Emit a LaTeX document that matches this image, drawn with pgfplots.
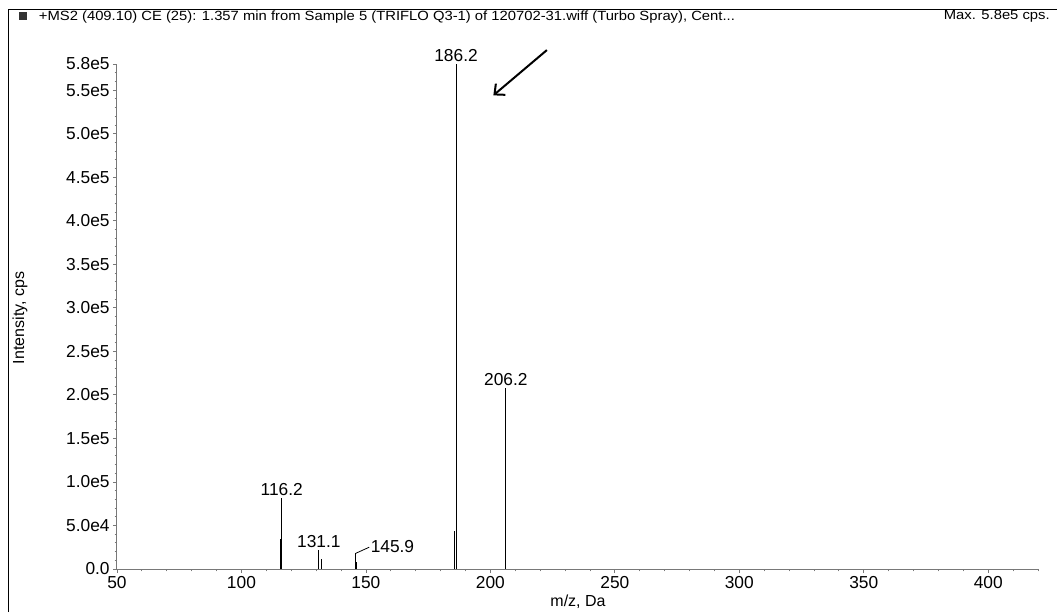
\documentclass[border=0pt]{standalone}
\usepackage{fontspec}
\setmainfont{Liberation Sans}
\newfontfamily\hdrfont[FakeStretch=1.11]{Liberation Sans}
\usepackage{pgfplots}
\pgfplotsset{compat=1.18}
\usetikzlibrary{arrows.meta}
\definecolor{axgray}{RGB}{120,120,120}
\begin{document}
\begin{tikzpicture}
\path[use as bounding box] (0,0) rectangle (792.75pt,-459pt);
\draw[black, line width=0.75pt] (6pt,-459pt) -- (6pt,-7pt) -- (792.75pt,-7pt);
\fill[black!80] (14pt,-9pt) rectangle (20pt,-15pt);
\node[anchor=west, font=\hdrfont\fontsize{10pt}{11pt}\selectfont, inner sep=0pt] at (29pt,-12.5pt) {+MS2 (409.10) CE (25): 1.357 min from Sample 5 (TRIFLO Q3-1) of 120702-31.wiff (Turbo Spray), Cent...};
\node[anchor=east, font=\hdrfont\fontsize{10pt}{11pt}\selectfont, inner sep=0pt] at (787.5pt,-12.5pt) {Max. 5.8e5 cps.};
\node[rotate=90, font=\fontsize{12pt}{14pt}\selectfont] at (15pt,-238.5pt) {Intensity, cps};
\node[font=\fontsize{12pt}{14pt}\selectfont, anchor=south] at (433.5pt,-460pt) {m/z, Da};
\begin{axis}[
  at={(87.75pt,-426.75pt)}, anchor=south west,
  scale only axis, width=690.75pt, height=378.75pt,
  xmin=50, xmax=420, ymin=0, ymax=580000,
  axis x line*=bottom, axis y line*=left,
  axis line style={axgray, line width=0.75pt},
  tick style={axgray, line width=0.6pt},
  tick align=outside,
  major tick length=3pt, minor tick length=1.8pt,
  xtick={50,100,...,400},
  xticklabels={50,100,150,200,250,300,350,400},
  minor xtick={60,70,80,90,110,120,130,140,160,170,180,190,210,220,230,240,260,270,280,290,310,320,330,340,360,370,380,390,410,420},
  ytick={0,50000,100000,150000,200000,250000,300000,350000,400000,450000,500000,550000,580000},
  yticklabels={0.0,5.0e4,1.0e5,1.5e5,2.0e5,2.5e5,3.0e5,3.5e5,4.0e5,4.5e5,5.0e5,5.5e5,5.8e5},
  minor ytick={10000,20000,...,570000},
  scaled y ticks=false,
  ticklabel style={font=\fontsize{13pt}{15pt}\selectfont, text=black},
  xticklabel style={yshift=1pt},
  yticklabel style={xshift=1pt},
  clip=false,
]
\addplot[ycomb, black, line width=0.75pt, mark=none] coordinates {
 (115.6,34000) (116.2,82000)
 (130.9,10000) (131.1,22000) (132.3,11000)
 (145.9,18000) (146.2,8000)
 (185.7,44000) (186.2,580000)
 (205.9,12000) (206.2,208000)
};
\node[anchor=south, inner sep=1.5pt, font=\fontsize{13pt}{15pt}\selectfont] at (axis cs:186.2,580000) {186.2};
\node[anchor=south, inner sep=1.5pt, font=\fontsize{13pt}{15pt}\selectfont] at (axis cs:206.2,208000) {206.2};
\node[anchor=south, inner sep=1.5pt, font=\fontsize{13pt}{15pt}\selectfont] at (axis cs:116.2,82000) {116.2};
\node[anchor=south, inner sep=1.5pt, font=\fontsize{13pt}{15pt}\selectfont] at (axis cs:131.1,22000) {131.1};
\draw[black, line width=0.6pt] (axis cs:145.9,18000) -- (axis cs:151.3,25000);
\node[anchor=west, inner sep=1pt, font=\fontsize{13pt}{15pt}\selectfont] at (axis cs:151.3,25500) {145.9};
\draw[black, line width=1.5pt, -{Straight Barb[length=6pt, width=11pt]}] (axis cs:222.7,596000) -- (axis cs:201.2,544000);
\end{axis}
\end{tikzpicture}
\end{document}
